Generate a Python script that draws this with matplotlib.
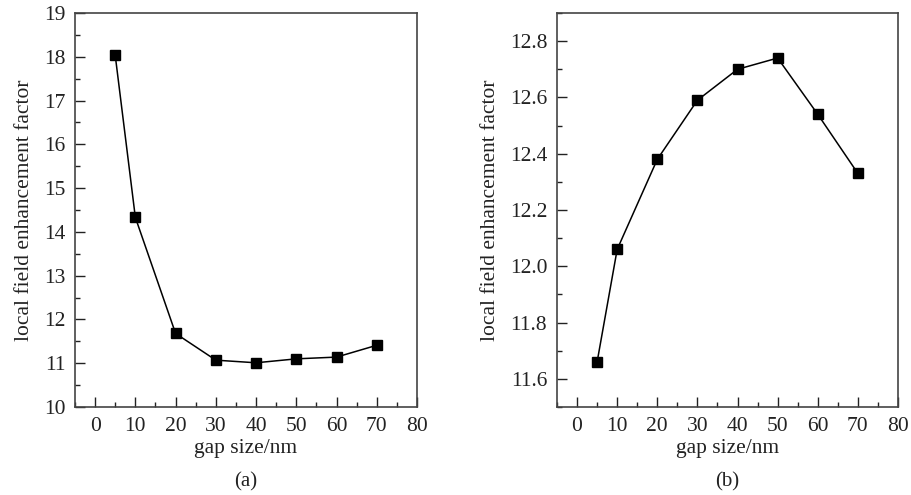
import matplotlib
matplotlib.use("Agg")
import matplotlib.pyplot as plt
from matplotlib.ticker import MultipleLocator

gap_nm = [5, 10, 20, 30, 40, 50, 60, 70]
factor_a = [18.03, 14.33, 11.68, 11.07, 11.01, 11.10, 11.14, 11.41]
factor_b = [11.66, 12.06, 12.38, 12.59, 12.70, 12.74, 12.54, 12.33]
xlabel = "gap size/nm"
ylabel = "local field enhancement factor"
panel_labels = ["(a)", "(b)"]

plt.rcParams['font.family'] = ['Liberation Serif', 'DejaVu Serif']
plt.rcParams['mathtext.fontset'] = 'stix'

fig = plt.figure(figsize=(9.12, 4.95), dpi=100)
ax1 = fig.add_axes([75/912, 1-407/495, 342/912, 394/495])
ax2 = fig.add_axes([557/912, 1-407/495, 341/912, 394/495])

col = '#222222'
for ax, y, lab, ylim, ymaj, ymin, fmt in [
        (ax1, factor_a, panel_labels[0], (10, 19), 1, 0.5, '%d'),
        (ax2, factor_b, panel_labels[1], (11.5, 12.9), 0.2, 0.1, '%.1f')]:
    ax.plot(gap_nm, y, color='black', lw=1.1, marker='s', ms=7.5,
            markerfacecolor='black', markeredgecolor='black')
    ax.set_xlim(-5, 80)
    ax.set_ylim(*ylim)
    ax.xaxis.set_major_locator(MultipleLocator(10))
    ax.xaxis.set_minor_locator(MultipleLocator(5))
    ax.yaxis.set_major_locator(MultipleLocator(ymaj))
    ax.yaxis.set_minor_locator(MultipleLocator(ymin))
    ax.yaxis.set_major_formatter(matplotlib.ticker.FormatStrFormatter(fmt))
    ax.tick_params(which='both', direction='in', top=False, right=False,
                   color=col, width=1.0, labelsize=15.5, labelcolor='#222222')
    ax.tick_params(which='major', length=7, pad=7)
    ax.tick_params(which='minor', length=3.5)
    for s in ax.spines.values():
        s.set_color('#444444')
        s.set_linewidth(1.2)
    ax.set_xlabel(xlabel, fontsize=15.5, color='#222222', labelpad=2)
    ax.set_ylabel(ylabel, fontsize=15.5, color='#222222', labelpad=7)
    ax.text(0.5, -0.165, lab, transform=ax.transAxes, ha='center', va='top',
            fontsize=15, color='#222222')

fig.savefig("out.png", dpi=100)
